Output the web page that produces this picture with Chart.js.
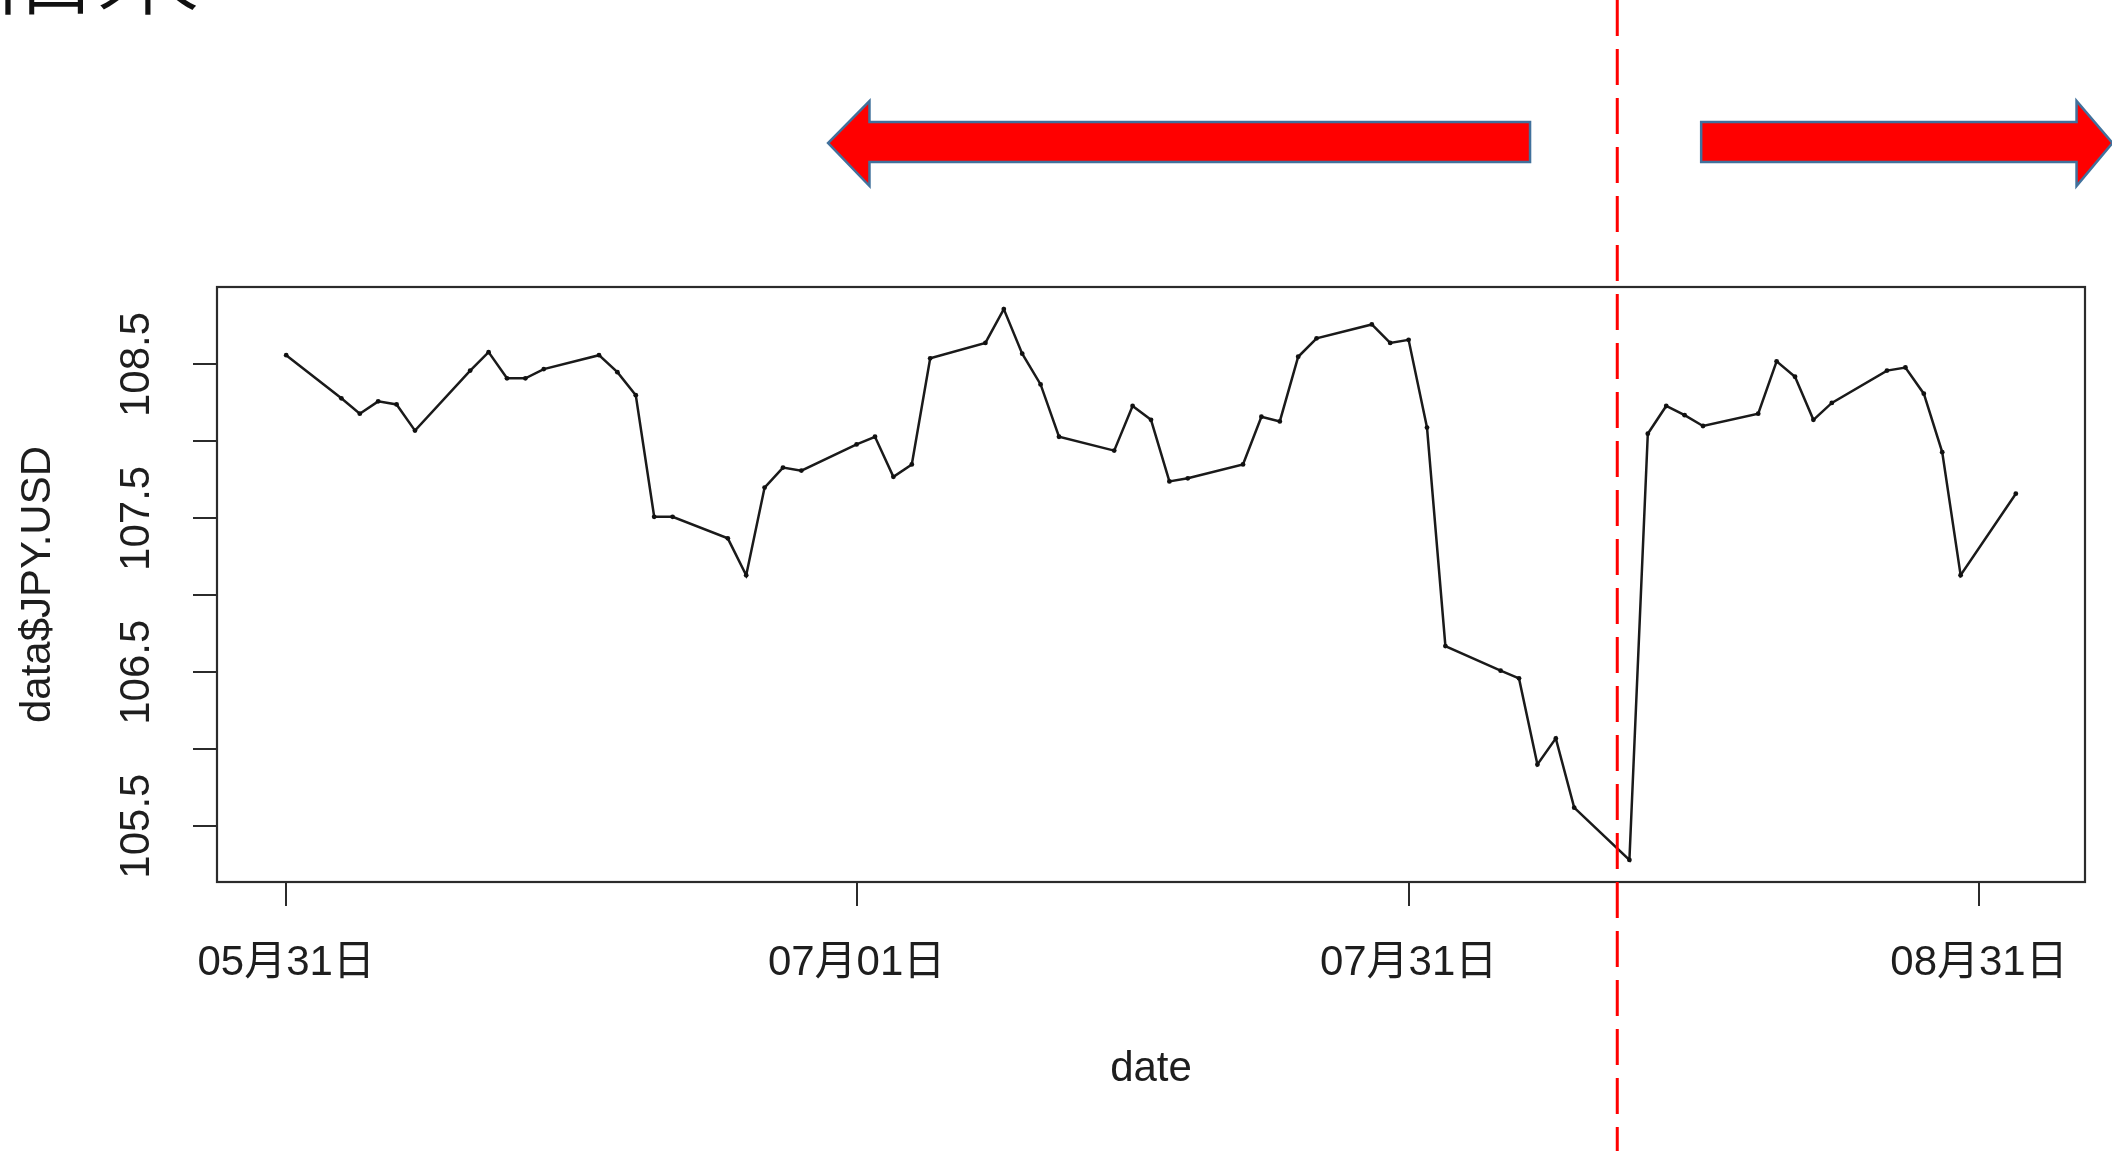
<!DOCTYPE html>
<html>
<head>
<meta charset="utf-8">
<script src="https://cdn.jsdelivr.net/npm/chart.js@4.4.1/dist/chart.umd.min.js"></script>
<style>
  html, body { margin: 0; padding: 0; background: #fff; }
  #contenedor { width: 2112px; height: 1151px; position: relative; }
</style>
</head>
<body>
<div id="contenedor"><canvas id="graficaJPY"></canvas></div>
<script>
// datos (dias habiles, 2019)
const fechas = ["05-31",
  "06-03","06-04","06-05","06-06","06-07","06-10","06-11","06-12","06-13","06-14",
  "06-17","06-18","06-19","06-20","06-21","06-24","06-25","06-26","06-27","06-28",
  "07-01","07-02","07-03","07-04","07-05","07-08","07-09","07-10","07-11","07-12",
  "07-15","07-16","07-17","07-18","07-19","07-22","07-23","07-24","07-25","07-26",
  "07-29","07-30","07-31","08-01","08-02","08-05","08-06","08-07","08-08","08-09",
  "08-12","08-13","08-14","08-15","08-16","08-19","08-20","08-21","08-22","08-23",
  "08-26","08-27","08-28","08-29","08-30","09-02"];
const valores = [108.56,
  108.28,108.18,108.26,108.24,108.07,108.46,108.58,108.41,108.41,108.47,
  108.56,108.45,108.30,107.51,107.51,107.37,107.13,107.70,107.83,107.81,
  107.98,108.03,107.77,107.85,108.54,108.64,108.86,108.57,108.37,108.03,
  107.94,108.23,108.14,107.74,107.76,107.85,108.16,108.13,108.55,108.67,
  108.76,108.64,108.66,108.09,106.67,106.51,106.46,105.90,106.07,105.62,
  105.28,108.05,108.23,108.17,108.10,108.18,108.52,108.42,108.14,108.25,
  108.46,108.48,108.31,107.93,107.13,107.66];
const fechasX = ["05-31","07-01","07-31","08-31"];
const etiquetasX = ["05月31日","07月01日","07月31日","08月31日"];
const ticksY = [105.5,106,106.5,107,107.5,108,108.5];
const etiquetasY = ["105.5","106.5","107.5","108.5"];
const tituloX = "date";
const tituloY = "data$JPY.USD";
const nota = "旧来";
const fechaCorte = "08-12"; // linea roja discontinua (poco antes del 12/08)

// dias desde el 31 de mayo
function dia(f) {
  const [m, d] = f.split("-").map(Number);
  return (Date.UTC(2019, m - 1, d) - Date.UTC(2019, 4, 31)) / 86400000;
}
const diasX = fechasX.map(dia);
const puntos = fechas.map((f, i) => ({ x: dia(f), y: valores[i] }));

// rango como R: 4% extra a cada lado
const xMin = dia(fechas[0]), xMax = dia(fechas[fechas.length - 1]);
const yMin = Math.min(...valores), yMax = Math.max(...valores);
const xExtra = (xMax - xMin) * 0.04, yExtra = (yMax - yMin) * 0.04;

const fuente = "'Liberation Sans', Arial, 'Noto Sans CJK JP', sans-serif";
Chart.defaults.font.family = fuente;
Chart.defaults.color = '#1e1e1e';

const plugin = {
  id: 'extras',
  beforeDraw: (chart) => {
    const ctx = chart.ctx;
    ctx.save();
    ctx.fillStyle = 'white';
    ctx.fillRect(0, 0, chart.width, chart.height);
    ctx.restore();
  },
  afterDraw: (chart) => {
    const ctx = chart.ctx;
    const a = chart.chartArea;
    const sx = chart.scales.x, sy = chart.scales.y;
    ctx.save();
    // caja del grafico
    ctx.strokeStyle = '#2b2b2b';
    ctx.lineWidth = 2.2;
    ctx.strokeRect(a.left, a.top, a.right - a.left, a.bottom - a.top);

    // etiquetas del eje y, giradas como en R
    ctx.fillStyle = '#1e1e1e';
    ctx.font = '42px ' + fuente;
    ctx.textAlign = 'center';
    ctx.textBaseline = 'middle';
    etiquetasY.forEach(t => {
      const y = sy.getPixelForValue(parseFloat(t));
      ctx.save();
      ctx.translate(137, y);
      ctx.rotate(-Math.PI / 2);
      ctx.fillText(t, 0, 0);
      ctx.restore();
    });

    // flechas rojas
    const flecha = (cola, base, punta) => {
      const xc = sx.getPixelForValue(cola), xb = sx.getPixelForValue(base), xp = sx.getPixelForValue(punta);
      ctx.beginPath();
      ctx.moveTo(xc, 122);
      ctx.lineTo(xb, 122);
      ctx.lineTo(xb, 101);
      ctx.lineTo(xp, 143);
      ctx.lineTo(xb, 186);
      ctx.lineTo(xb, 162);
      ctx.lineTo(xc, 162);
      ctx.closePath();
      ctx.fillStyle = '#ff0000';
      ctx.fill();
      ctx.strokeStyle = '#41719c';
      ctx.lineWidth = 2.5;
      ctx.stroke();
    };
    flecha(67.6, 31.7, 29.45);
    flecha(76.9, 97.3, 99.25);

    // linea de corte
    const xc = sx.getPixelForValue(dia(fechaCorte) - 0.66);
    ctx.strokeStyle = '#ff0000';
    ctx.lineWidth = 3;
    ctx.setLineDash([36, 13]);
    ctx.beginPath();
    ctx.moveTo(xc, 0);
    ctx.lineTo(xc, chart.height);
    ctx.stroke();
    ctx.setLineDash([]);

    // texto cortado arriba a la izquierda
    ctx.fillStyle = '#111';
    ctx.font = "300 104px 'Noto Sans CJK JP'";
    ctx.textAlign = 'left';
    ctx.textBaseline = 'ideographic';
    ctx.fillText(nota, -8, 19);
    ctx.restore();
  }
};

const ctz = document.getElementById('graficaJPY');
const myChart = new Chart(ctz, {
  type: 'line',
  data: {
    datasets: [{
      label: tituloY,
      data: puntos,
      borderColor: '#1a1a1a',
      borderWidth: 2.5,
      pointRadius: 2.4,
      pointBorderWidth: 0,
      pointBackgroundColor: '#111',
      tension: 0,
      fill: false
    }]
  },
  options: {
    responsive: true,
    maintainAspectRatio: false,
    devicePixelRatio: 1,
    animation: false,
    layout: { padding: { top: 287, right: 27, bottom: 0, left: 0 } },
    plugins: { legend: { display: false }, tooltip: { enabled: false } },
    scales: {
      x: {
        type: 'linear',
        min: xMin - xExtra,
        max: xMax + xExtra,
        afterFit: (s) => { s.height = 269; },
        afterBuildTicks: (s) => { s.ticks = diasX.map(v => ({ value: v })); },
        grid: { drawOnChartArea: false, drawTicks: true, tickLength: 24, color: '#2b2b2b', lineWidth: 2 },
        border: { display: false },
        ticks: {
          autoSkip: false, maxRotation: 0, minRotation: 0, padding: 32,
          font: { size: 42 },
          callback: (v) => { const i = diasX.indexOf(v); return i >= 0 ? etiquetasX[i] : ''; }
        },
        title: { display: true, text: tituloX, font: { size: 42 }, padding: { top: 0, bottom: 56 } }
      },
      y: {
        type: 'linear',
        min: yMin - yExtra,
        max: yMax + yExtra,
        afterFit: (s) => { s.width = 217; },
        afterBuildTicks: (s) => { s.ticks = ticksY.map(v => ({ value: v })); },
        grid: { drawOnChartArea: false, drawTicks: true, tickLength: 24, color: '#2b2b2b', lineWidth: 2 },
        border: { display: false },
        ticks: { display: false },
        title: { display: true, text: tituloY, font: { size: 42 }, padding: { top: 13, bottom: 0 } }
      }
    }
  },
  plugins: [plugin]
});
</script>
</body>
</html>
